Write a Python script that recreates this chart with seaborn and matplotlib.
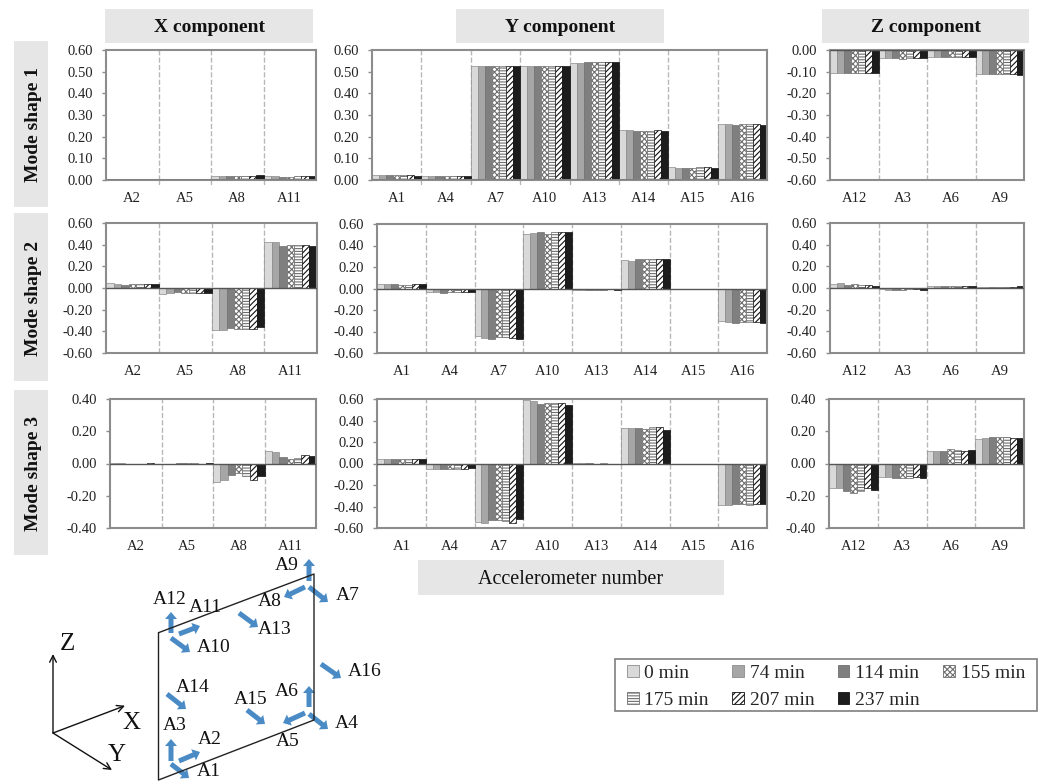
import pandas as pd
import matplotlib.pyplot as plt
import matplotlib.patches as mpatches
import seaborn as sns

sns.set_theme(style='white')
plt.rcParams['font.family'] = ['Liberation Serif', 'DejaVu Serif']
plt.rcParams['axes.unicode_minus'] = False
plt.rcParams['hatch.linewidth'] = 0.8

# Data
minutes = ['0 min', '74 min', '114 min', '155 min', '175 min', '207 min', '237 min']
sensors_x = ['A2', 'A5', 'A8', 'A11']
sensors_y = ['A1', 'A4', 'A7', 'A10', 'A13', 'A14', 'A15', 'A16']
sensors_z = ['A12', 'A3', 'A6', 'A9']

m1_x = [[.003, .003, .003, .003, .003, .003, .003],
        [.003, .003, .003, .003, .003, .003, .003],
        [.020, .020, .020, .020, .018, .020, .022],
        [.017, .017, .016, .016, .017, .020, .017]]
m1_y = [[.023, .023, .023, .023, .023, .023, .020],
        [.020, .020, .018, .018, .018, .018, .018],
        [.525, .525, .525, .525, .525, .527, .525],
        [.528, .528, .525, .528, .528, .527, .527],
        [.540, .540, .545, .545, .545, .545, .545],
        [.230, .230, .225, .225, .225, .230, .225],
        [.060, .055, .055, .055, .060, .060, .055],
        [.260, .258, .256, .258, .258, .260, .255]]
m1_z = [[-.105, -.105, -.105, -.105, -.105, -.105, -.105],
        [-.035, -.035, -.035, -.040, -.035, -.035, -.035],
        [-.033, -.033, -.033, -.030, -.033, -.030, -.030],
        [-.110, -.110, -.110, -.110, -.110, -.110, -.115]]

m2_x = [[.047, .035, .030, .040, .035, .040, .040],
        [-.055, -.045, -.040, -.045, -.045, -.045, -.045],
        [-.390, -.390, -.365, -.380, -.380, -.375, -.360],
        [.425, .425, .385, .400, .400, .395, .385]]
m2_y = [[.040, .040, .040, .035, .030, .040, .040],
        [-.035, -.035, -.040, -.035, -.030, -.030, -.035],
        [-.445, -.460, -.470, -.455, -.455, -.460, -.470],
        [.505, .515, .530, .510, .525, .525, .530],
        [-.015, -.015, -.010, -.010, -.010, -.005, -.012],
        [.265, .255, .275, .275, .270, .275, .275],
        [-.005, -.005, -.005, -.005, -.005, -.005, -.005],
        [-.305, -.310, -.320, -.310, -.310, -.310, -.320]]
m2_z = [[.040, .045, .025, .040, .030, .025, .015],
        [-.010, -.015, -.015, -.020, -.012, -.012, -.015],
        [.015, .018, .020, .018, .015, .022, .020],
        [.005, .008, .012, .010, .008, .008, .022]]

m3_x = [[.003, .003, -.003, -.005, -.005, .003, -.006],
        [-.005, -.005, .002, .002, .002, -.003, .002],
        [-.115, -.105, -.070, -.060, -.080, -.100, -.075],
        [.080, .070, .040, .030, .033, .055, .045]]
m3_y = [[.045, .045, .045, .040, .040, .045, .040],
        [-.055, -.055, -.050, -.050, -.055, -.055, -.045],
        [-.540, -.550, -.525, -.530, -.535, -.550, -.520],
        [.590, .580, .555, .560, .565, .560, .545],
        [.003, .003, .003, -.005, .003, -.004, -.004],
        [.330, .330, .330, .320, .335, .340, .315],
        [-.003, -.003, -.003, -.003, -.003, -.003, -.003],
        [-.385, -.385, -.375, -.380, -.385, -.380, -.375]]
m3_z = [[-.150, -.150, -.170, -.185, -.170, -.150, -.165],
        [-.085, -.085, -.090, -.090, -.090, -.085, -.090],
        [.080, .080, .080, .090, .085, .080, .085],
        [.150, .160, .165, .165, .165, .160, .160]]

W, H = 1048, 781
gray = '#8c8c8c'
box_gray = '#e6e6e6'
colors = ['#d9d9d9', '#a6a6a6', '#7f7f7f', '#ffffff', '#ffffff', '#ffffff', '#1c1c1c']
hatches = [None, None, None, 'xxxxxx', '------', '//////', None]
edges = ['#8c8c8c', '#8c8c8c', '#6e6e6e', '#6e6e6e', '#6e6e6e', '#111111', '#111111']

# one row per panel: values, sensors, box in pixels (left, right, top, bottom), y range, y step
panels = [
    (m1_x, sensors_x, (106, 316, 50, 180), (0, .6), .1, True),
    (m1_y, sensors_y, (372, 767, 50, 180), (0, .6), .1, True),
    (m1_z, sensors_z, (830, 1024, 50, 180), (-.6, 0), .1, False),
    (m2_x, sensors_x, (106, 317, 223, 353), (-.6, .6), .2, False),
    (m2_y, sensors_y, (377, 767, 224, 353), (-.6, .6), .2, False),
    (m2_z, sensors_z, (830, 1024, 223, 353), (-.6, .6), .2, False),
    (m3_x, sensors_x, (110, 316, 399, 528), (-.4, .4), .2, False),
    (m3_y, sensors_y, (377, 767, 399, 528), (-.6, .6), .2, False),
    (m3_z, sensors_z, (829, 1024, 399, 528), (-.4, .4), .2, False),
]

fig = plt.figure(figsize=(W / 100, H / 100), dpi=100)

for vals, sensors, (l, r, t, b), yr, step, tick_below in panels:
    ax = fig.add_axes([l / W, 1 - b / H, (r - l) / W, (b - t) / H])
    rows = [(s, m, vals[i][j]) for i, s in enumerate(sensors) for j, m in enumerate(minutes)]
    df = pd.DataFrame(rows, columns=['sensor', 'time', 'value'])
    sns.barplot(data=df, x='sensor', y='value', hue='time', order=sensors, hue_order=minutes,
                palette=colors, saturation=1, width=1, errorbar=None, legend=False, ax=ax)
    for cont, hatch, edge in zip(ax.containers, hatches, edges):
        for bar in cont:
            bar.set_hatch(hatch)
            bar.set_edgecolor(edge)
            bar.set_linewidth(0.5)
    for i in range(1, len(sensors)):
        ax.axvline(i - .5, color='#b8b8b8', ls='--', lw=1, zorder=0)
        if tick_below:
            ax.plot([i - .5, i - .5], [-.018, 0], color='#b8b8b8', lw=1, clip_on=False)
    ax.axhline(0, color='#555555', lw=1, zorder=3)
    ax.set_xlim(-.5, len(sensors) - .5)
    ax.set_ylim(*yr)
    n = round((yr[1] - yr[0]) / step)
    ax.set_yticks([yr[0] + k * step for k in range(n + 1)])
    ax.yaxis.set_major_formatter('{x:.2f}')
    ax.set_xlabel('')
    ax.set_ylabel('')
    ax.tick_params(axis='x', length=0, pad=8.5, labelsize=10.5, colors='#222222')
    ax.tick_params(axis='y', length=3, width=1, color=gray, pad=6.5, left=True, labelsize=10.5, labelcolor='#222222')
    for sp in ax.spines.values():
        sp.set_color(gray)
        sp.set_linewidth(1.5)

# Overlay in pixel coordinates for header boxes and the sensor sketch
ov = fig.add_axes([0, 0, 1, 1], zorder=5)
ov.set_xlim(0, W)
ov.set_ylim(H, 0)
ov.axis('off')
ov.patch.set_alpha(0)

headers = ['X component', 'Y component', 'Z component']
header_x = [(105, 313), (456, 664), (822, 1029)]
for txt, (x0, x1) in zip(headers, header_x):
    ov.add_patch(mpatches.Rectangle((x0, 9), x1 - x0, 34, color=box_gray, lw=0))
    ov.text((x0 + x1) / 2, 28, txt, ha='center', va='center', fontsize=14, fontweight='bold', color='#111111')

modes = ['Mode shape 1', 'Mode shape 2', 'Mode shape 3']
mode_y = [(41, 207), (213, 381), (390, 555)]
for txt, (y0, y1) in zip(modes, mode_y):
    ov.add_patch(mpatches.Rectangle((14, y0), 34, y1 - y0, color=box_gray, lw=0))
    ov.text(33, (y0 + y1) / 2 + 1, txt, ha='center', va='center', rotation=90, fontsize=14,
            fontweight='bold', color='#111111')

ov.add_patch(mpatches.Rectangle((418, 560), 306, 35, color=box_gray, lw=0))
ov.text(571, 579, 'Accelerometer number', ha='center', va='center', fontsize=14.5, color='#111111')

# Sketch of the plate, global axes and accelerometers
plate_x = [158.5, 314, 314, 158.5, 158.5]
plate_y = [632.7, 574, 720, 780, 632.7]
ov.plot(plate_x, plate_y, color='#222222', lw=1)

axis_tips = [(53, 654), (125, 705.7), (112, 770)]
for tip in axis_tips:
    ov.annotate('', xy=tip, xytext=(53, 733),
                arrowprops=dict(arrowstyle='->', color='#111111', lw=1, shrinkA=0, shrinkB=0))
for txt, xpos, ypos in [('Z', 67, 644), ('X', 131, 723), ('Y', 117, 755)]:
    ov.text(xpos, ypos, txt, ha='center', va='center', fontsize=18, color='#111111')

# name, arrow tail, arrow tip, label centre (pixels)
sensor_marks = [
    ('A9', (309, 581), (309, 559), (287, 565)),
    ('A8', (305, 587), (284, 597), (270, 602)),
    ('A7', (309, 587), (328, 602), (348, 595)),
    ('A13', (239, 613), (258, 627), (275, 630)),
    ('A12', (171, 633), (171, 612), (170, 600)),
    ('A11', (179, 634), (200, 626), (205, 608)),
    ('A10', (171, 638), (190, 652), (214, 647)),
    ('A16', (321, 664), (341, 678), (365, 672)),
    ('A14', (167, 694), (186, 709), (193, 688)),
    ('A15', (247, 710), (265, 724), (251, 700)),
    ('A6', (309, 707), (309, 686), (287, 691)),
    ('A5', (305, 713), (283, 723), (288, 742)),
    ('A4', (309, 714), (328, 729), (347, 723)),
    ('A3', (171, 761), (171, 739), (175, 726)),
    ('A2', (179, 761), (200, 752), (210, 739)),
    ('A1', (171, 764), (189, 778), (209, 772)),
]
for name, tail, tip, lab in sensor_marks:
    ov.arrow(tail[0], tail[1], tip[0] - tail[0], tip[1] - tail[1], width=5, head_width=12,
             head_length=7, length_includes_head=True, color='#4a8bc6', lw=0)
    ov.text(lab[0], lab[1], name, ha='center', va='center', fontsize=14, color='#111111')

# Legend frame drawn apart, the columns fill downwards so the order reads row by row
ov.add_patch(mpatches.Rectangle((615, 659), 422, 52, facecolor='white', edgecolor='#7f7f7f', lw=1.2))
handles = [mpatches.Patch(facecolor=c, hatch=h, edgecolor=e, lw=0.6, label=m)
           for c, h, e, m in zip(colors, hatches, edges, minutes)]
order = [0, 4, 1, 5, 2, 6, 3]
leg = fig.legend(handles=[handles[i] for i in order], ncol=4, loc='lower left',
                 bbox_to_anchor=(627 / W, 1 - 709 / H), borderaxespad=0, fontsize=14,
                 frameon=False, handlelength=.6, handleheight=.6, handletextpad=.3,
                 columnspacing=1.2, labelspacing=.52, borderpad=0)
leg.set_zorder(6)

plt.savefig('out.png', dpi=100)
plt.close()
